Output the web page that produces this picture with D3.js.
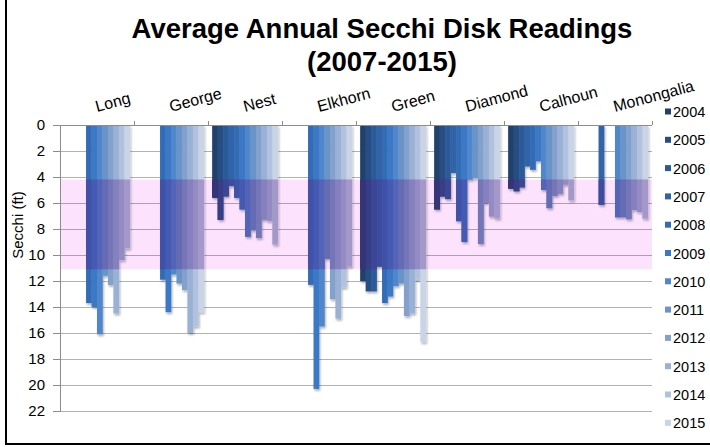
<!DOCTYPE html>
<html>
<head>
    <meta charset="utf-8">
    <title>Average Annual Secchi Disk Readings</title>
    <script src="https://d3js.org/d3.v7.min.js"></script>

    <style>
        body {
            padding: 0;
            margin: 0;
            background: #fff;
        }

        text {
            font-family: "Liberation Sans", Arial, sans-serif;
            fill: #000;
        }
    </style>
</head>
<body>
    <svg id="svg" width="710" height="447"></svg>

    <script>
        // Lakes along the (top) category axis.
        const lakes = ["Long", "George", "Nest", "Elkhorn", "Green", "Diamond", "Calhoun", "Monongalia"];
        const years = ["2004", "2005", "2006", "2007", "2008", "2009", "2010", "2011", "2012", "2013", "2014", "2015"];

        // Secchi depth (ft) per year, one value per lake (null = no reading).
        const y2004 = [null, null, 5.6, null, 12.0, 6.5, 4.9, null];
        const y2005 = [null, null, 7.3, null, 12.8, 5.5, 5.1, null];
        const y2006 = [null, null, 5.5, null, 12.8, 5.7, 4.8, null];
        const y2007 = [null, null, 4.7, null, 10.9, 3.7, 3.2, 6.15];
        const y2008 = [13.7, 11.9, 5.6, 12.3, 13.7, 7.4, 3.45, null];
        const y2009 = [14.0, 14.4, 6.5, 20.3, 13.2, 9.0, 2.8, null];
        const y2010 = [16.1, 11.5, 8.6, 15.5, 12.4, 4.2, 5.0, 7.1];
        const y2011 = [11.6, 12.2, 8.1, 10.3, 12.2, 4.1, 6.4, 7.1];
        const y2012 = [12.3, 12.7, 8.7, 13.4, 14.7, 9.15, 5.45, 7.25];
        const y2013 = [14.5, 16.0, 7.3, 14.9, 14.5, 6.0, 5.3, 6.55];
        const y2014 = [10.4, 15.5, 7.4, 12.5, 11.9, 7.05, 4.6, 6.7];
        const y2015 = [9.5, 14.4, 9.2, 10.9, 16.7, 7.2, 5.8, 7.2];
        const seriesValues = [y2004, y2005, y2006, y2007, y2008, y2009, y2010, y2011, y2012, y2013, y2014, y2015];

        // Target range shaded in pink, and the value axis ticks.
        const targetRange = [4.2, 11.1];
        const yTicks = [0, 2, 4, 6, 8, 10, 12, 14, 16, 18, 20, 22];

        const colors = ["#22406c", "#274d84", "#2b5a98", "#3064a8", "#336cb6", "#3a78c6",
                        "#4f86cc", "#6b93c8", "#83a1cd", "#9ab1d6", "#b2c2de", "#c9d4e7"];
        const tint = c => d3.interpolateRgb(c, "#5a1c8c")(0.33);

        const svg = d3.select("svg");
        const margin = { top: 125, right: 58, bottom: 36, left: 60 };
        const width = +svg.attr("width") - margin.left - margin.right;
        const height = +svg.attr("height") - margin.top - margin.bottom;

        // Scales: lakes, years inside each lake, depth going down.
        const x0 = d3.scaleBand().domain(lakes).range([0, width]);
        const x1 = d3.scaleBand().domain(years).range([0, x0.bandwidth()]).paddingOuter(0.76);
        const y = d3.scaleLinear().domain([0, 22]).range([0, height]);
        const color = d3.scaleOrdinal().domain(years).range(colors);

        const bars = [];
        years.forEach((yr, i) => {
            lakes.forEach((lake, j) => {
                const v = seriesValues[i][j];
                if (v != null) bars.push({ year: yr, lake: lake, value: v });
            });
        });

        // Outer frame (right side falls off the page).
        svg.append("rect")
            .attr("x", 6).attr("y", -4)
            .attr("width", 712).attr("height", 448)
            .attr("fill", "none")
            .attr("stroke", "#000")
            .attr("stroke-width", 2);

        // Shadow for the bars.
        const defs = svg.append("defs");
        defs.append("filter")
            .attr("id", "shadow")
            .attr("x", "-50%").attr("y", "-10%").attr("width", "200%").attr("height", "120%")
            .append("feDropShadow")
                .attr("dx", 1).attr("dy", 2)
                .attr("stdDeviation", 1.2)
                .attr("flood-color", "#000")
                .attr("flood-opacity", 0.3);

        const g = svg.append("g")
            .attr("transform", `translate(${margin.left}, ${margin.top})`);

        defs.append("clipPath")
            .attr("id", "bandClip")
            .append("rect")
                .attr("x", 0)
                .attr("y", y(targetRange[0]))
                .attr("width", width)
                .attr("height", y(targetRange[1]) - y(targetRange[0]));

        // Pink target band.
        g.append("rect")
            .attr("x", 0)
            .attr("y", y(targetRange[0]))
            .attr("width", width)
            .attr("height", y(targetRange[1]) - y(targetRange[0]))
            .attr("fill", "#fde2fd");

        // Gridlines.
        g.append("g")
            .call(d3.axisLeft(y).tickValues(yTicks).tickSize(-width).tickFormat(""))
            .call(a => a.select(".domain").remove())
            .selectAll("line")
                .attr("stroke", "#000")
                .attr("stroke-opacity", 0.3)
                .attr("shape-rendering", "crispEdges");

        // Y axis with ticks to the left.
        const yAxis = g.append("g")
            .call(d3.axisLeft(y).tickValues(yTicks).tickSize(7).tickPadding(8));
        yAxis.select(".domain").attr("stroke", "#8c8c8c").attr("shape-rendering", "crispEdges");
        yAxis.selectAll("line").attr("stroke", "#8c8c8c").attr("shape-rendering", "crispEdges");
        yAxis.selectAll("text")
            .attr("style", "font-size: 15px; font-family: 'Liberation Sans', Arial, sans-serif")
            .attr("fill", "#000");

        // The bars.
        const barG = g.append("g").attr("filter", "url(#shadow)");
        barG.selectAll("rect")
            .data(bars)
            .enter().append("rect")
                .attr("x", d => x0(d.lake) + x1(d.year))
                .attr("y", y(0))
                .attr("width", x1.bandwidth() + 0.3)
                .attr("height", d => y(d.value) - y(0))
                .attr("fill", d => color(d.year));

        // Bars seen through the pink band take a purple tint.
        g.append("g")
            .attr("clip-path", "url(#bandClip)")
            .selectAll("rect")
            .data(bars)
            .enter().append("rect")
                .attr("x", d => x0(d.lake) + x1(d.year))
                .attr("y", y(0))
                .attr("width", x1.bandwidth() + 0.3)
                .attr("height", d => y(d.value) - y(0))
                .attr("fill", d => tint(color(d.year)));

        // Category axis along the top, ticks between lakes.
        g.append("line")
            .attr("x1", 0).attr("x2", width)
            .attr("y1", 0.5).attr("y2", 0.5)
            .attr("stroke", "#8c8c8c");
        g.selectAll(".cat-tick")
            .data(lakes.map(l => x0(l) + x0.bandwidth()))
            .enter().append("line")
                .attr("class", "cat-tick")
                .attr("x1", d => Math.round(d) + 0.5).attr("x2", d => Math.round(d) + 0.5)
                .attr("y1", -4).attr("y2", 0)
                .attr("stroke", "#8c8c8c");

        g.selectAll(".cat-label")
            .data(lakes)
            .enter().append("text")
                .attr("class", "cat-label")
                .attr("transform", d => `translate(${x0(d) + x0.bandwidth() / 2}, -13) rotate(-15)`)
                .attr("style", "font-size: 16px")
                .text(d => d);

        // Y axis title.
        svg.append("text")
            .attr("transform", "translate(23, 225) rotate(-90)")
            .attr("text-anchor", "middle")
            .attr("style", "font-size: 15px")
            .text("Secchi (ft)");

        // Title.
        svg.append("text")
            .attr("x", 382).attr("y", 38)
            .attr("text-anchor", "middle")
            .attr("style", "font-size: 27.5px; font-weight: bold")
            .text("Average Annual Secchi Disk Readings");
        svg.append("text")
            .attr("x", 382).attr("y", 71)
            .attr("text-anchor", "middle")
            .attr("style", "font-size: 27.5px; font-weight: bold")
            .text("(2007-2015)");

        // Legend.
        const legend = svg.append("g")
            .selectAll("g")
            .data(years)
            .enter().append("g")
                .attr("transform", (d, i) => `translate(665, ${111.5 + i * 28.3})`);
        legend.append("rect")
            .attr("x", 0).attr("y", -3)
            .attr("width", 6).attr("height", 6)
            .attr("fill", d => color(d));
        legend.append("text")
            .attr("x", 8).attr("y", 5.5)
            .attr("style", "font-size: 14.5px")
            .text(d => d);
    </script>
</body>
</html>
